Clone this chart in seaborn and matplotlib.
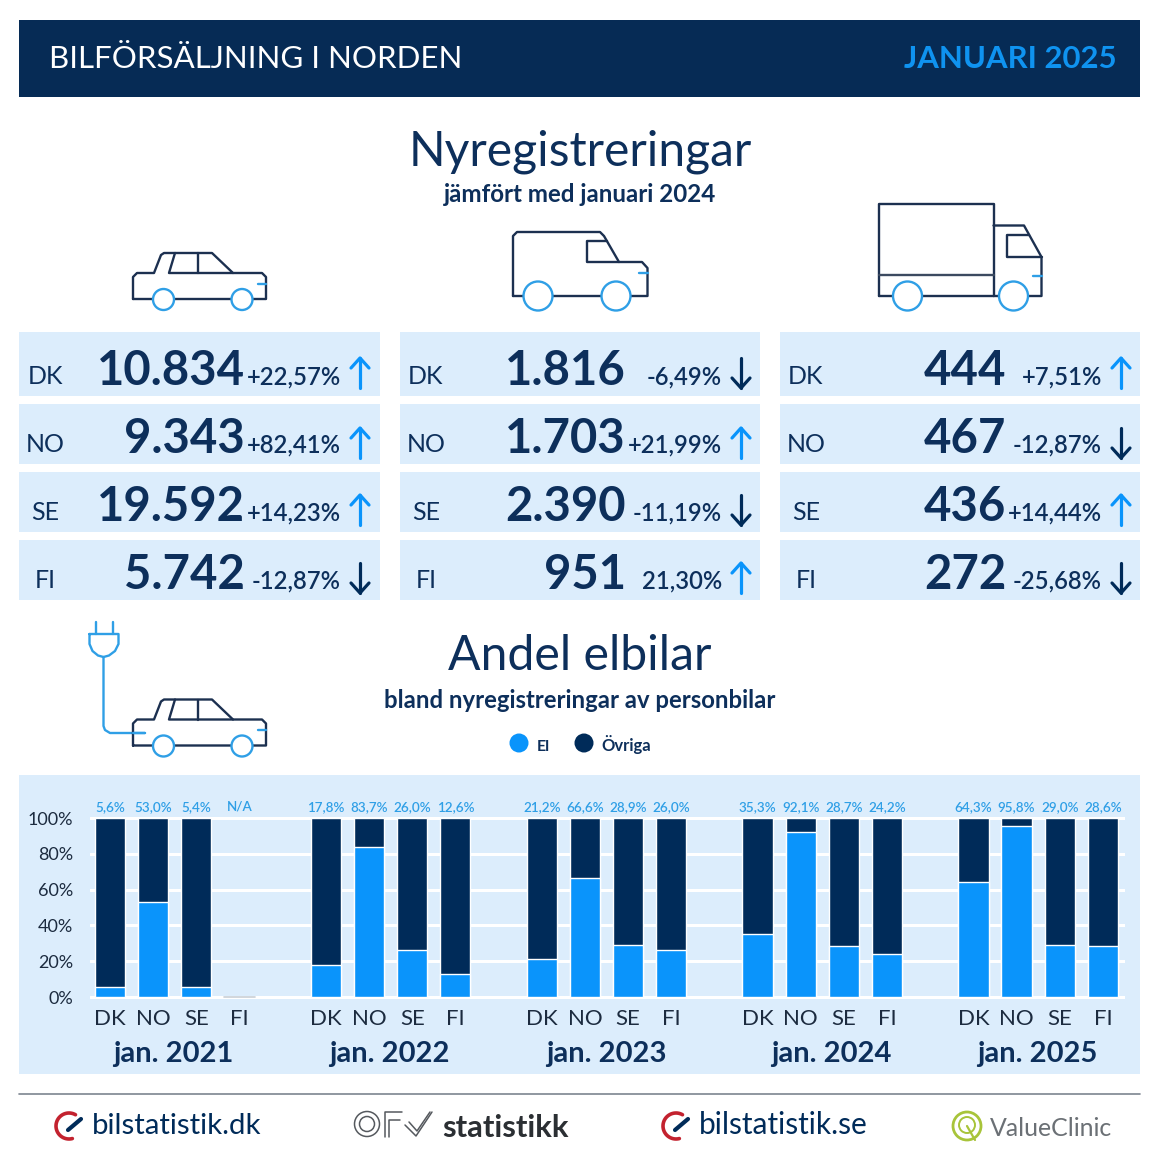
# -*- coding:utf-8 -*-
import numpy as np
import pandas as pd
import seaborn as sns
import matplotlib.pyplot as plt
from matplotlib.patches import Rectangle, Circle, Ellipse

# ---- data ----
countries = ['DK', 'NO', 'SE', 'FI']
pass_reg = ['10.834', '9.343', '19.592', '5.742']
pass_chg = ['+22,57%', '+82,41%', '+14,23%', '-12,87%']
pass_up = [True, True, True, False]
van_reg = ['1.816', '1.703', '2.390', '951']
van_chg = ['-6,49%', '+21,99%', '-11,19%', '21,30%']
van_up = [False, True, False, True]
truck_reg = ['444', '467', '436', '272']
truck_chg = ['+7,51%', '-12,87%', '+14,44%', '-25,68%']
truck_up = [True, False, True, False]

years = ['jan. 2021', 'jan. 2022', 'jan. 2023', 'jan. 2024', 'jan. 2025']
el_2021 = [5.6, 53.0, 5.4, np.nan]
el_2022 = [17.8, 83.7, 26.0, 12.6]
el_2023 = [21.2, 66.6, 28.9, 26.0]
el_2024 = [35.3, 92.1, 28.7, 24.2]
el_2025 = [64.3, 95.8, 29.0, 28.6]
other_2021 = [94.4, 47.0, 94.6, np.nan]
other_2022 = [82.2, 16.3, 74.0, 87.4]
other_2023 = [78.8, 33.4, 71.1, 74.0]
other_2024 = [64.7, 7.9, 71.3, 75.8]
other_2025 = [35.7, 4.2, 71.0, 71.4]
lab_2021 = ['5,6%', '53,0%', '5,4%', 'N/A']
lab_2022 = ['17,8%', '83,7%', '26,0%', '12,6%']
lab_2023 = ['21,2%', '66,6%', '28,9%', '26,0%']
lab_2024 = ['35,3%', '92,1%', '28,7%', '24,2%']
lab_2025 = ['64,3%', '95,8%', '29,0%', '28,6%']

NAVY = '#002b59'
TEXT = '#0d2f5b'
BLUE = '#0a94fb'
PANEL = '#dcedfc'
WHEEL = '#2f9fe6'
LINE = '#1c3050'
W = 1160.0

sns.set_theme(style='whitegrid', rc={'axes.axisbelow': True})
plt.rcParams['font.family'] = ['Lato', 'DejaVu Sans']

fig = plt.figure(figsize=(11.6, 11.6), dpi=100, facecolor='white')

# whole page in pixel coordinates, for header, tables and icons
bg = fig.add_axes([0, 0, 1, 1], zorder=0)
bg.set_xlim(0, W)
bg.set_ylim(W, 0)
bg.axis('off')


def box(x0, y0, x1, y1, color):
    bg.add_patch(Rectangle((x0, y0), x1 - x0, y1 - y0, fc=color, ec='none'))


def stroke(pts, color=LINE, lw=1.7):
    pts = np.array(pts)
    bg.plot(pts[:, 0], pts[:, 1], color=color, lw=lw, solid_capstyle='round', solid_joinstyle='round')


def wheel(x, y, r):
    bg.add_patch(Circle((x, y), r, fc='white', ec=WHEEL, lw=1.7, zorder=4))


def car(dy=0.0):
    stroke([(133, 299 + dy), (133, 277 + dy), (137, 273 + dy), (154, 273 + dy), (161, 255 + dy), (164, 253 + dy),
            (212, 253 + dy), (233, 273 + dy), (262, 273 + dy), (266, 277 + dy), (266, 299 + dy), (133, 299 + dy)])
    stroke([(175, 253 + dy), (169, 273 + dy), (233, 273 + dy)])
    stroke([(198, 253 + dy), (198, 273 + dy)])
    stroke([(258, 283.5 + dy), (266, 283.5 + dy)], color=WHEEL)
    wheel(163.5, 299.5 + dy, 10.5)
    wheel(242, 299.5 + dy, 10.5)


def van():
    stroke([(513, 296), (513, 236), (517, 232), (600, 232), (604, 236), (619, 262), (642, 262), (647.5, 268),
            (647.5, 296), (513, 296)])
    stroke([(607, 241), (586.5, 241), (586.5, 262), (619, 262)])
    stroke([(639, 272.5), (647.5, 272.5)], color=WHEEL)
    wheel(538, 296, 14.5)
    wheel(616, 296, 14.5)


def truck():
    stroke([(879, 296), (879, 204), (993.5, 204), (993.5, 296), (879, 296)])
    stroke([(879, 275), (993.5, 275)], color='#3c4a60')
    stroke([(993.5, 225.5), (1024, 225.5), (1041.5, 257), (1041.5, 296), (993.5, 296)])
    stroke([(1029, 235), (1006.5, 235), (1006.5, 257), (1041.5, 257)])
    stroke([(1033, 275.5), (1041.5, 275.5)], color=WHEEL)
    wheel(907.5, 296, 14.5)
    wheel(1013.5, 296, 14.5)


def plug():
    stroke([(95.5, 622), (95.5, 634)], color=WHEEL)
    stroke([(112.5, 622), (112.5, 634)], color=WHEEL)
    stroke([(89.5, 634), (118.5, 634), (118.5, 644), (115, 651), (109, 655.5), (103.5, 657), (98, 655.5), (92.5, 651),
            (89.5, 644), (89.5, 634)], color=WHEEL)
    stroke([(103.5, 657), (103.5, 726), (105, 730), (110, 733), (145, 733)], color=WHEEL)


def arrow(x, y, up):
    s = -1 if up else 1
    color = BLUE if up else NAVY
    stroke([(x, y - s * 15), (x, y + s * 15)], color=color, lw=2.3)
    stroke([(x - 9, y + s * 5), (x, y + s * 15), (x + 9, y + s * 5)], color=color, lw=2.3)


def logo_gauge(cx, cy):
    t = np.radians(np.linspace(60, 285, 40))
    bg.plot(cx + 13 * np.cos(t), cy - 13 * np.sin(t), color='#c3222f', lw=2.6, solid_capstyle='round')
    stroke([(cx - 1, cy + 4), (cx + 12, cy - 7)], color=NAVY, lw=3)


# header
box(19, 20, 1140, 97, '#062b55')
bg.text(49, 68, 'BILFÖRSÄLJNING I NORDEN', color='white', fontsize=22.5, va='baseline')
bg.text(1117, 68, 'JANUARI 2025', color='#0f93f0', fontsize=22.4, fontweight='bold', va='baseline', ha='right')

# titles
bg.text(580, 165, 'Nyregistreringar', color=TEXT, fontsize=34.6, ha='center', va='baseline')
bg.text(580, 202, 'jämfört med januari 2024', color=TEXT, fontsize=17.4, fontweight='bold', ha='center', va='baseline')
bg.text(580, 670, 'Andel elbilar', color=TEXT, fontsize=34.7, ha='center', va='baseline')
bg.text(580, 708, 'bland nyregistreringar av personbilar', color=TEXT, fontsize=17.2, fontweight='bold',
        ha='center', va='baseline')

# icons
car()
van()
truck()
plug()
car(dy=446.5)
stroke([(133, 733), (145, 733)], color=WHEEL)

# the three tables
row_tops = [332, 404, 472, 540]
row_bots = [396, 464, 532, 600]
row_base = [385, 453, 521, 589]
row_mid = [373, 443, 510, 578]
col_left = [19, 400, 780]
col_right = [380, 760, 1140]
for c, (reg, chg, up) in enumerate([(pass_reg, pass_chg, pass_up), (van_reg, van_chg, van_up),
                                    (truck_reg, truck_chg, truck_up)]):
    x0 = col_left[c]
    for r, code in enumerate(countries):
        box(x0, row_tops[r], col_right[c], row_bots[r], PANEL)
        bg.text(x0 + 26, row_base[r] - 1, code, color=TEXT, fontsize=18, ha='center', va='baseline')
        bg.text(x0 + 226, row_base[r], reg[r], color=TEXT, fontsize=34, fontweight='bold', ha='right', va='baseline')
        bg.text(x0 + 322, row_base[r] - 1, chg[r], color=TEXT, fontsize=17.2, fontweight='semibold', ha='right',
                va='baseline')
        arrow(x0 + 341, row_mid[r], up[r])

# legend
bg.add_patch(Ellipse((519, 743), 19, 19, fc=BLUE, ec='none'))
bg.text(537, 751, 'El', color=TEXT, fontsize=11.5, fontweight='bold', va='baseline')
bg.add_patch(Ellipse((584, 743), 19, 19, fc=NAVY, ec='none'))
bg.text(601, 751, 'Övriga', color=TEXT, fontsize=12, fontweight='bold', va='baseline')

# bar panel
box(19, 775, 1140, 1074, PANEL)
for name, x in zip(years, [173, 389, 606, 831, 1037]):
    bg.text(x, 1062, name, color=TEXT, fontsize=21, fontweight='bold', ha='center', va='baseline')

# footer
stroke([(19, 1094), (1140, 1094)], color='#7d8590', lw=1.2)
logo_gauge(69, 1126)
bg.text(92, 1134, 'bilstatistik.dk', color=NAVY, fontsize=21.2, va='baseline')
logo_gauge(676, 1126)
bg.text(699, 1134, 'bilstatistik.se', color=NAVY, fontsize=21.5, va='baseline')
bg.add_patch(Circle((367, 1124), 12.5, fc='none', ec='#55595e', lw=1.1))
bg.add_patch(Circle((367, 1124), 7.5, fc='none', ec='#55595e', lw=1.1))
stroke([(402, 1112), (385, 1112), (385, 1137)], color='#55595e', lw=1.1)
stroke([(400, 1120), (389, 1120), (389, 1137)], color='#55595e', lw=1.1)
stroke([(405, 1125), (416, 1136), (432, 1112)], color='#55595e', lw=1.1)
stroke([(409, 1122), (417, 1131), (430, 1112)], color='#55595e', lw=1.1)
bg.text(442, 1137, 'statistikk', color='#2b2f33', fontsize=22.3, fontweight='bold', va='baseline')
bg.add_patch(Circle((967, 1126), 14, fc='none', ec='#a8c43a', lw=2))
bg.add_patch(Circle((967, 1125), 8, fc='none', ec='#a8c43a', lw=1.4))
stroke([(967, 1126), (975, 1140)], color='#a8c43a', lw=1.6)
bg.text(990, 1136, 'ValueClinic', color='#6b7075', fontsize=17.9, va='baseline')

# ---- stacked share chart, one long table, empty slot between the years ----
el_all = [el_2021, el_2022, el_2023, el_2024, el_2025]
other_all = [other_2021, other_2022, other_2023, other_2024, other_2025]
lab_all = [lab_2021, lab_2022, lab_2023, lab_2024, lab_2025]

rows = []
order = []
tick_names = []
for i, name in enumerate(years):
    for j, code in enumerate(countries):
        key = name + ' ' + code
        rows.append({'slot': key, 'el': el_all[i][j], 'total': el_all[i][j] + other_all[i][j], 'label': lab_all[i][j]})
        order.append(key)
        tick_names.append(code)
    if i < len(years) - 1:
        order.append('gap %d' % i)
        tick_names.append('')
df = pd.DataFrame(rows)

# 43.17 px per slot, first bar centre at x=110; 1.79 px per percent, 0% at y=997
left, right = 90.0, 1125.0
top, bottom = 800.1, 998.8
ax = fig.add_axes([left / W, 1 - bottom / W, (right - left) / W, (bottom - top) / W], zorder=1)
ax.patch.set_visible(False)
sns.barplot(data=df, x='slot', y='total', order=order, color=NAVY, saturation=1, width=0.7, errorbar=None, ax=ax, zorder=2)
sns.barplot(data=df, x='slot', y='el', order=order, color=BLUE, saturation=1, width=0.7, errorbar=None, ax=ax, zorder=3)

ax.set_xlim((left - 110) / 43.17, (right - 110) / 43.17)
ax.set_ylim(-1, 110)
ax.set_xlabel('')
ax.set_ylabel('')
ax.set_yticks([0, 20, 40, 60, 80, 100])
ax.set_yticklabels(['0%', '20%', '40%', '60%', '80%', '100%'])
ax.set_xticks(range(len(order)))
ax.set_xticklabels(tick_names)
ax.tick_params(axis='x', length=0, pad=7, labelsize=16, labelcolor='#1c2b3f')
ax.tick_params(axis='y', length=0, pad=12, labelsize=13, labelcolor='#1c2b3f')
ax.grid(False, axis='x')
ax.grid(True, axis='y', color='white', lw=2.2)
sns.despine(ax=ax, left=True, bottom=True)

for pos, key in enumerate(order):
    hit = df[df['slot'] == key]
    if len(hit):
        ax.text(pos, 103, hit['label'].iloc[0], color='#2f9fe6', fontsize=9.7, fontweight='semibold', ha='center', va='bottom')
# FI 2021 has no value, only a thin rule on the baseline
ax.plot([2.64, 3.36], [0, 0], color='#c9cfd6', lw=1.2, zorder=4)

fig.savefig('out.png', dpi=100)
